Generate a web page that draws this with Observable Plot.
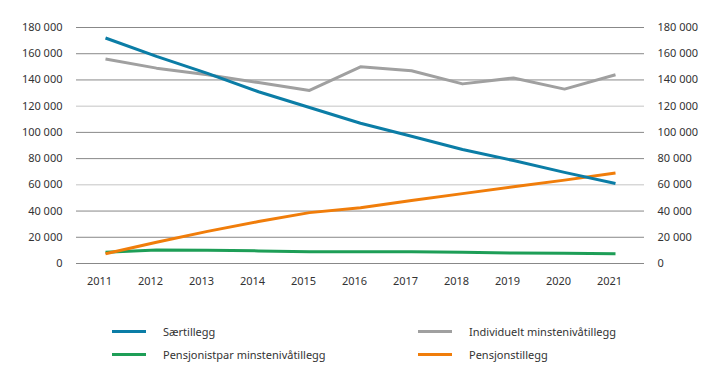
<!DOCTYPE html>
<html>
<head>
<meta charset="utf-8">
<script src="https://cdn.jsdelivr.net/npm/d3@7"></script>
<script src="https://cdn.jsdelivr.net/npm/@observablehq/plot@0.6"></script>
<style>
  html, body { margin: 0; padding: 0; background: #fff; }
  body { width: 719px; height: 383px; overflow: hidden; font-family: "Noto Sans", sans-serif; }
  #chart svg { display: block; }
  #legend { position: relative; height: 83px; font-size: 11px; color: #333; }
  .item { position: absolute; display: flex; align-items: center; }
  .sw { width: 34px; height: 3px; margin-right: 17px; }
</style>
</head>
<body>
<div id="chart"></div>
<div id="legend"></div>
<script>
const years = [2011, 2012, 2013, 2014, 2015, 2016, 2017, 2018, 2019, 2020, 2021];
const seriesNames = ["Særtillegg", "Individuelt minstenivåtillegg", "Pensjonistpar minstenivåtillegg", "Pensjonstillegg"];
const saertillegg = [172000, 158000, 145000, 131000, 119000, 107000, 97000, 87000, 78500, 69500, 61000];
const individuelt = [156000, 149000, 144000, 138000, 132000, 150000, 147000, 137000, 141500, 133000, 144000];
const pensjonistpar = [8500, 10300, 10200, 9600, 9000, 9000, 9000, 8500, 8000, 7800, 7500];
const pensjonstillegg = [7500, 16200, 24500, 32000, 38800, 42600, 48000, 53300, 58600, 63600, 69000];
const colors = ["#0b7da6", "#a0a0a0", "#1e9e57", "#f07d0a"];
const yTicks = [0, 20000, 40000, 60000, 80000, 100000, 120000, 140000, 160000, 180000];

const seriesValues = [saertillegg, individuelt, pensjonistpar, pensjonstillegg];
const data = [];
seriesNames.forEach((name, i) => {
  years.forEach((yr, j) => data.push({series: name, year: yr, value: seriesValues[i][j]}));
});

const fmt = d3.formatLocale({decimal: ",", thousands: " ", grouping: [3], currency: ["", " kr"]}).format(",d");
const lightLines = new Set([60000, 120000]);

const drawOrder = [1, 2, 3, 0];

const chart = Plot.plot({
  width: 719,
  height: 300,
  marginLeft: 76,
  marginRight: 75,
  marginTop: 27,
  marginBottom: 37,
  style: {fontFamily: "Noto Sans, sans-serif", fontSize: "11px", color: "#333", background: "#fff"},
  x: {type: "point", domain: years, padding: 0.5},
  y: {domain: [0, 180000]},
  marks: [
    Plot.ruleY(yTicks, {stroke: d => lightLines.has(d) ? "#c4c4c4" : "#888", strokeWidth: 1}),
    Plot.axisY({anchor: "left", ticks: yTicks, tickSize: 0, tickPadding: 14, tickFormat: fmt, label: null}),
    Plot.axisY({anchor: "right", ticks: yTicks, tickSize: 0, tickPadding: 13, tickFormat: fmt, label: null, textAnchor: "start"}),
    Plot.axisX({ticks: years, tickSize: 0, tickPadding: 14, dx: -6, tickFormat: d => String(d), label: null}),
    ...drawOrder.map(i => Plot.line(data.filter(d => d.series === seriesNames[i]), {
      x: "year", y: "value", stroke: colors[i], strokeWidth: 3, strokeLinejoin: "round", strokeLinecap: "butt"
    }))
  ]
});
document.getElementById("chart").appendChild(chart);

const legendPos = [
  {left: 112, top: 24},
  {left: 418, top: 24},
  {left: 112, top: 47},
  {left: 418, top: 47}
];
const legend = document.getElementById("legend");
seriesNames.forEach((name, i) => {
  const it = document.createElement("div");
  it.className = "item";
  it.style.left = legendPos[i].left + "px";
  it.style.top = legendPos[i].top + "px";
  const sw = document.createElement("span");
  sw.className = "sw";
  sw.style.background = colors[i];
  const tx = document.createElement("span");
  tx.textContent = name;
  it.appendChild(sw);
  it.appendChild(tx);
  legend.appendChild(it);
});
</script>
</body>
</html>
